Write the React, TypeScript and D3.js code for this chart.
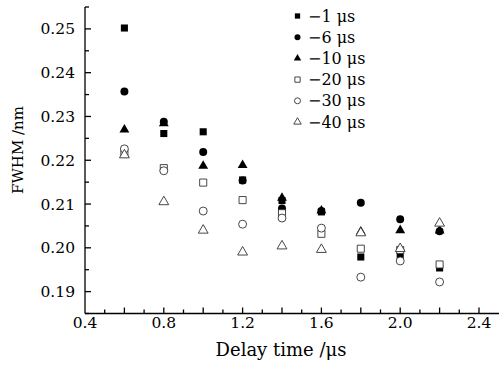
import * as d3 from "d3";
import React, { useRef, useEffect } from "react";

const W = 499;
const H = 365;
const margin = { top: 7, right: 0, bottom: 52, left: 85 };

const delays = [0.6, 0.8, 1.0, 1.2, 1.4, 1.6, 1.8, 2.0, 2.2];

// FWHM (nm) per gate delay series
const s1 = [0.2502, 0.2261, 0.2265, 0.2155, 0.2108, 0.2082, 0.1979, 0.1983, 0.1954];
const s6 = [0.2357, 0.2288, 0.2219, 0.2154, 0.2090, 0.2084, 0.2103, 0.2065, 0.2038];
const s10 = [0.2270, 0.2284, 0.2187, 0.2189, 0.2114, 0.2085, 0.2037, 0.2040, 0.2039];
const s20 = [0.2216, 0.2182, 0.2149, 0.2109, 0.2079, 0.2032, 0.1998, 0.1995, 0.1962];
const s30 = [0.2226, 0.2176, 0.2084, 0.2054, 0.2068, 0.2045, 0.1933, 0.1970, 0.1922];
const s40 = [0.2212, 0.2105, 0.2040, 0.1990, 0.2004, 0.1996, 0.2034, 0.1998, 0.2056];

const labels = ["\u22121 \u03bcs", "\u22126 \u03bcs", "\u221210 \u03bcs", "\u221220 \u03bcs", "\u221230 \u03bcs", "\u221240 \u03bcs"];
const series = [s1, s6, s10, s20, s30, s40];
const shapes = ["square", "circle", "triangle", "square", "circle", "triangle"];
const filled = [true, true, true, false, false, false];

const xMajor = [0.4, 0.6, 0.8, 1.0, 1.2, 1.4, 1.6, 1.8, 2.0, 2.2, 2.4];
const xLabels = [0.4, 0.8, 1.2, 1.6, 2.0, 2.4];
const yTicks = [0.19, 0.2, 0.21, 0.22, 0.23, 0.24, 0.25];

const font = "DejaVu Serif";

function symbolFor(shape: string, size: number) {
  const t = shape === "square" ? d3.symbolSquare : shape === "circle" ? d3.symbolCircle : d3.symbolTriangle;
  return d3.symbol().type(t).size(size)();
}

export default function App() {
  const ref = useRef<SVGSVGElement>(null);

  useEffect(() => {
    const svg = d3.select(ref.current);
    svg.selectAll("*").remove();

    const x = d3.scaleLinear().domain([0.4, 2.5]).range([margin.left, margin.left + 2.1 * 197]);
    const y = d3.scaleLinear().domain([0.185, 0.255]).range([H - margin.bottom + 0.5, margin.top]);
    const y0 = y(0.185);

    const axes = svg.append("g").attr("stroke", "#000").attr("stroke-width", 1.3);
    axes.append("line").attr("x1", x(0.4)).attr("x2", W).attr("y1", y0).attr("y2", y0);
    axes.append("line").attr("x1", x(0.4)).attr("x2", x(0.4)).attr("y1", y0).attr("y2", y(0.255));

    // x ticks, pointing inward
    d3.range(5, 25).forEach((i) => {
      const v = i / 10;
      const major = xMajor.some((m) => Math.abs(m - v) < 1e-6);
      axes.append("line").attr("x1", x(v)).attr("x2", x(v)).attr("y1", y0).attr("y2", y0 - (major ? 6 : 4));
    });
    // y ticks
    d3.range(0, 15).forEach((i) => {
      const v = 0.185 + i * 0.005;
      const major = i % 2 === 1;
      axes.append("line").attr("x1", x(0.4)).attr("x2", x(0.4) + (major ? 6 : 4)).attr("y1", y(v)).attr("y2", y(v));
    });

    svg.append("g")
      .selectAll("text")
      .data(xLabels)
      .join("text")
      .attr("x", (d) => x(d))
      .attr("y", 328)
      .attr("text-anchor", "middle")
      .attr("font-family", font)
      .attr("font-size", 15.5)
      .text((d) => d.toFixed(1));

    svg.append("g")
      .selectAll("text")
      .data(yTicks)
      .join("text")
      .attr("x", 75)
      .attr("y", (d) => y(d) + 5.5)
      .attr("text-anchor", "end")
      .attr("font-family", font)
      .attr("font-size", 15.5)
      .text((d) => d.toFixed(2));

    svg.append("text")
      .attr("x", 281)
      .attr("y", 356)
      .attr("text-anchor", "middle")
      .attr("font-family", font)
      .attr("font-size", 18)
      .text("Delay time /\u03bcs");

    svg.append("text")
      .attr("transform", "translate(23,150) rotate(-90)")
      .attr("text-anchor", "middle")
      .attr("font-family", font)
      .attr("font-size", 15)
      .text("FWHM /nm");

    // points: filled series first, open ones (white fill) on top
    series.forEach((vals, k) => {
      const size = shapes[k] === "triangle" ? 42 : 50;
      svg.append("g")
        .selectAll("path")
        .data(vals)
        .join("path")
        .attr("d", symbolFor(shapes[k], size))
        .attr("transform", (d, i) => `translate(${x(delays[i])},${y(d)})`)
        .attr("fill", filled[k] ? "#000" : "#fff")
        .attr("stroke", filled[k] ? "none" : "#333")
        .attr("stroke-width", 0.9);
    });

    // legend
    const lg = svg.append("g");
    labels.forEach((lab, k) => {
      const cy = 16 + k * 21.2;
      const size = shapes[k] === "triangle" ? 24 : 28;
      lg.append("path")
        .attr("d", symbolFor(shapes[k], size))
        .attr("transform", `translate(297.5,${cy})`)
        .attr("fill", filled[k] ? "#000" : "#fff")
        .attr("stroke", filled[k] ? "none" : "#333")
        .attr("stroke-width", 0.9);
      lg.append("text")
        .attr("x", 308)
        .attr("y", cy + 5.5)
        .attr("font-family", font)
        .attr("font-size", 16)
        .text(lab);
    });
  }, []);

  return (
    <svg ref={ref} width={W} height={H} style={{ position: "absolute", left: 0, top: 0, background: "#fff" }} />
  );
}
